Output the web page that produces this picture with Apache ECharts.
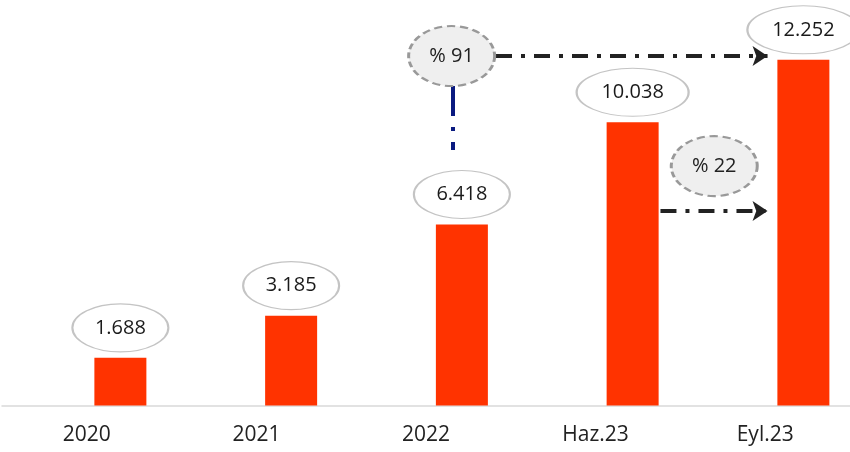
<!DOCTYPE html>
<html>
<head>
<meta charset="utf-8">
<script src="https://cdn.jsdelivr.net/npm/echarts@6/dist/echarts.min.js"></script>
<style>
  html, body { margin: 0; padding: 0; background: #fff; }
  #chart { width: 850px; height: 452px; }
</style>
</head>
<body>
<div id="chart"></div>
<script>
const categories = ['2020', '2021', '2022', 'Haz.23', 'Eyl.23']
const values = [1688, 3185, 6418, 10038, 12252]

// büyüme balonları ve oklar (x: kategori sırası, y: değer)
const growthLabels = ['% 91', '% 22']
const growthPos = [[1.94, 12385], [3.478, 8485]]
const arrowPaths = [
  [[2.2, 12385], [3.79, 12385]],
  [[3.163, 6892], [3.79, 6892]]
]
const linkPath = [[1.944, 11322], [1.944, 9054]]

function fmt(v) {
  return String(v).replace(/\B(?=(\d{3})+(?!\d))/g, '.')
}

const points = values.map((v, i) => [i, v])

const chart = echarts.init(document.getElementById('chart'))
chart.setOption({
  animation: false,
  grid: [
    { left: 35, right: 0, top: 10.5, bottom: 46.5 },
    { left: 2, right: 0, top: 10.5, bottom: 46.5 }
  ],
  xAxis: [
    // çubukların ekseni: kategori sırası, sağ taraf kesik
    { type: 'value', gridIndex: 0, min: -0.5, max: 4.273, show: false },
    {
      type: 'category',
      gridIndex: 1,
      data: categories,
      axisLine: { lineStyle: { color: '#d9d9d9', width: 1.5 } },
      axisTick: { show: false },
      axisLabel: { color: '#222', fontSize: 21, fontFamily: 'Open Sans', margin: 19 }
    }
  ],
  yAxis: [
    { type: 'value', gridIndex: 0, min: 0, max: 14000, show: false },
    { type: 'value', gridIndex: 1, min: 0, max: 14000, show: false }
  ],
  series: [
    {
      type: 'bar',
      xAxisIndex: 0,
      yAxisIndex: 0,
      data: points,
      barWidth: 52,
      itemStyle: { color: '#ff3300' },
      silent: true
    },
    {
      type: 'scatter',
      xAxisIndex: 0,
      yAxisIndex: 0,
      data: points,
      symbol: 'circle',
      symbolSize: (v) => [fmt(v[1]).length > 5 ? 112 : 96, 48],
      symbolOffset: [0, -30],
      itemStyle: { color: '#fff', borderColor: '#c4c4c4', borderWidth: 1.5, opacity: 1 },
      label: {
        show: true,
        position: 'inside',
        formatter: (p) => fmt(p.value[1]),
        color: '#1a1a1a',
        fontSize: 20,
        fontFamily: 'Open Sans'
      },
      silent: true
    },
    {
      type: 'lines',
      coordinateSystem: 'cartesian2d',
      xAxisIndex: 0,
      yAxisIndex: 0,
      data: arrowPaths.map(c => ({ coords: c })),
      symbol: ['none', 'arrow'],
      symbolSize: 15,
      lineStyle: { color: '#222', width: 4, type: [16, 9, 4, 9], opacity: 1 },
      silent: true
    },
    {
      type: 'lines',
      coordinateSystem: 'cartesian2d',
      xAxisIndex: 0,
      yAxisIndex: 0,
      data: [{ coords: linkPath }],
      symbol: ['none', 'none'],
      lineStyle: { color: '#0a1a80', width: 4, type: [30, 11, 4, 11], opacity: 1 },
      silent: true
    },
    {
      type: 'scatter',
      xAxisIndex: 0,
      yAxisIndex: 0,
      data: growthPos,
      symbol: 'circle',
      symbolSize: [86, 60],
      itemStyle: {
        color: '#efefef',
        borderColor: '#999',
        borderWidth: 2.5,
        borderType: [7, 4],
        opacity: 1
      },
      label: {
        show: true,
        position: 'inside',
        formatter: (p) => growthLabels[p.dataIndex],
        color: '#222',
        fontSize: 20,
        fontFamily: 'Open Sans'
      },
      silent: true
    }
  ]
})
</script>
</body>
</html>
